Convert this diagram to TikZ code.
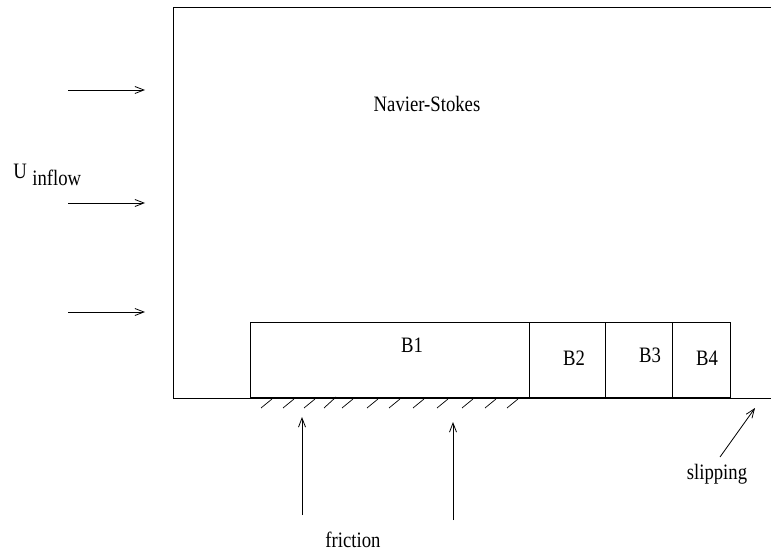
\documentclass[tikz,border=0pt]{standalone}
\usepackage{fontspec}
\setmainfont[FakeStretch=0.85]{Liberation Serif}
\usetikzlibrary{arrows.meta}
\begin{document}
\begin{tikzpicture}[x=1pt,y=-1pt,line width=0.8pt,
  txt/.style={font=\fontsize{22}{24}\selectfont,inner sep=0pt},
  blk/.style={draw,line width=0.8pt,minimum height=75pt,inner sep=0pt,anchor=south west},
  arr/.style={-{Straight Barb[length=9pt,width=7pt]}},
  hatch/.style={line width=0.7pt}]
\useasboundingbox (0,0) rectangle (771,556);
% domain frame
\coordinate (tr) at (771,8);
\coordinate (tl) at (173,8);
\coordinate (bl) at (173,398);
\coordinate (br) at (771,398);
\draw[line width=1pt] (tr) -- (tl) -- (bl) -- (br);
\node[txt] (ns) at (427,104) {Navier-Stokes};
% inflow
\node[txt,anchor=base west] (U) at (13,179) {U};
\node[txt,anchor=base west] (inflow) at (32,186) {inflow};
\foreach \y/\n in {90/a,203/b,312/c}{
  \coordinate (in\n) at (68,\y);
  \coordinate (out\n) at (145,\y);
  \draw[arr] (in\n) -- (out\n);
}
% blocks
\node[blk,minimum width=279pt] (b1) at (250,398) {};
\node[blk,minimum width=76pt] (b2) at (529,398) {};
\node[blk,minimum width=67pt] (b3) at (605,398) {};
\node[blk,minimum width=58pt] (b4) at (672,398) {};
\node[txt] (l1) at (412,345) {B1};
\node[txt] (l2) at (574,358) {B2};
\node[txt] (l3) at (650,355) {B3};
\node[txt] (l4) at (707,358) {B4};
% hatching
\foreach \x in {261,283,304,342,367,389,413,437,462,485,507}{
  \draw[hatch] (\x,408) -- ++(11,-9);
}
\draw[hatch] (324,408) -- ++(12,-11);
% friction
\node[txt] (fr) at (353,540) {friction};
\coordinate (f1s) at (302,515);
\coordinate (f1e) at (302,417);
\coordinate (f2s) at (453,520);
\coordinate (f2e) at (453,422);
\draw[arr] (f1s) -- (f1e);
\draw[arr] (f2s) -- (f2e);
% slipping
\node[txt] (sl) at (717,474) {slipping};
\coordinate (ss) at (720,457);
\coordinate (se) at (755,408);
\draw[arr] (ss) -- (se);
\end{tikzpicture}
\end{document}
